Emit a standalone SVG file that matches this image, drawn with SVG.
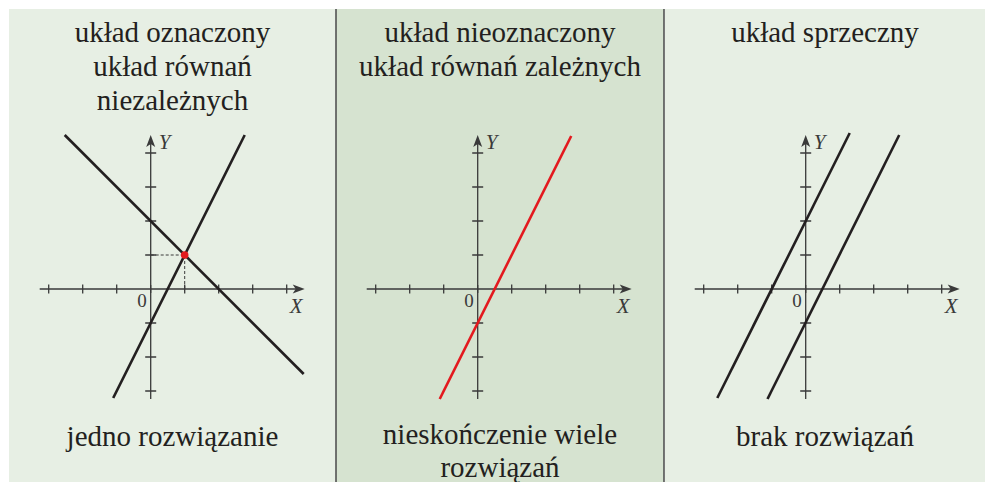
<svg xmlns="http://www.w3.org/2000/svg" width="985" height="482" viewBox="0 0 985 482">
<style>
text{font-family:'Liberation Serif','DejaVu Serif',Tinos,serif}
.lbl{font-size:29px;fill:#231f20;text-anchor:middle}
.ax{stroke:#3a3a3a;stroke-width:1.3;fill:none}
.ln{stroke:#231f20;stroke-width:2.6;fill:none}
.red{stroke:#e3191e;stroke-width:2.6;fill:none}
.num{font-size:19px;fill:#3a3a3a}
.var{font-size:21px;font-style:italic;fill:#3a3a3a}
.arr{fill:#3a3a3a}
</style>
<defs>
<g id="axes">
<path class="ax" d="M-111,0H146M0,110V-146"/>
<path class="ax" d="M-102,-4.5v9M-68,-4.5v9M-34,-4.5v9M0,-4v8M34,-4.5v9M68,-4.5v9M102,-4.5v9M136,-4.5v9"/>
<path class="ax" d="M-5.5,102h11M-5.5,68h11M-5.5,34h11M-5.5,-34h11M-5.5,-68h11M-5.5,-102h11M-5.5,-136h11"/>
<path class="arr" d="M154,0L142,-4.5L145,0L142,4.5Z"/>
<path class="arr" d="M0,-154L-4.5,-142L0,-145L4.5,-142Z"/>
<text class="num" x="-4" y="18" text-anchor="end" font-family="Liberation Serif, serif">0</text>
<text class="var" x="8" y="-140" font-family="Liberation Serif, serif">Y</text>
<text class="var" x="139" y="24" font-family="Liberation Serif, serif">X</text>
</g>
</defs>
<rect width="985" height="482" fill="#ffffff"/>
<g id="panel-left" font-family="Liberation Serif, serif">
<rect x="9" y="9" width="327" height="473" fill="#e7efe4"/>
<text class="lbl" x="172.5" y="42">układ oznaczony</text>
<text class="lbl" x="172.5" y="76">układ równań</text>
<text class="lbl" x="172.5" y="110">niezależnych</text>
<g transform="translate(150.7,289)">
<use href="#axes"/>
<path d="M0,-34H34V0" stroke="#3a3a3a" stroke-width="1" stroke-dasharray="3,2" fill="none"/>
<path class="ln" d="M-86,-154L153,85"/>
<path class="ln" d="M94,-154L-37.5,109"/>
<circle cx="34" cy="-34" r="3.8" fill="#e3191e"/>
</g>
<text class="lbl" x="172.5" y="446">jedno rozwiązanie</text>
</g>
<g id="panel-middle" font-family="Liberation Serif, serif">
<rect x="336" y="9" width="328" height="473" fill="#d6e3d0"/>
<path d="M336,9V482M664,9V482" stroke="#4a4a4a" stroke-width="1.5"/>
<text class="lbl" x="500" y="42">układ nieoznaczony</text>
<text class="lbl" x="500" y="76">układ równań zależnych</text>
<g transform="translate(477.7,289)">
<use href="#axes"/>
<path class="red" d="M93.5,-153L-38,110"/>
</g>
<text class="lbl" x="500" y="444">nieskończenie wiele</text>
<text class="lbl" x="500" y="477">rozwiązań</text>
</g>
<g id="panel-right" font-family="Liberation Serif, serif">
<rect x="665" y="9" width="320" height="473" fill="#e7efe4"/>
<text class="lbl" x="825" y="42">układ sprzeczny</text>
<g transform="translate(805.7,289)">
<use href="#axes"/>
<path class="ln" d="M44,-156L-88.4,109"/>
<path class="ln" d="M93.5,-154L-38.2,110"/>
</g>
<text class="lbl" x="825" y="446">brak rozwiązań</text>
</g>
</svg>
